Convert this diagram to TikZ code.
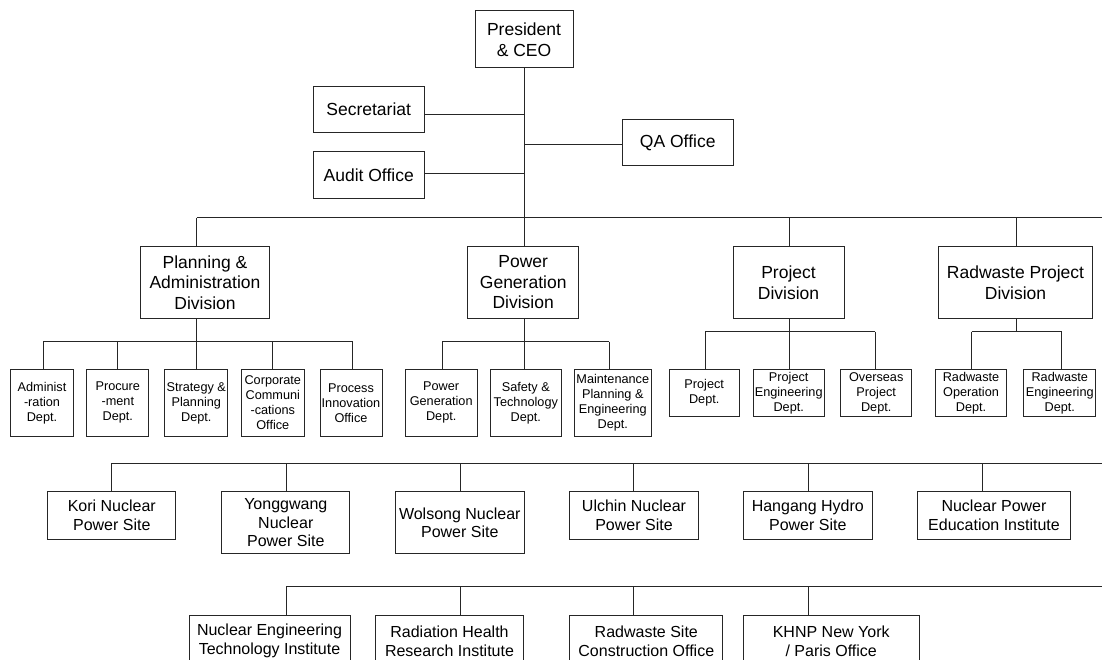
\documentclass[tikz,border=0pt]{standalone}
\usepackage{fontspec}
\setmainfont{Liberation Sans}
\begin{document}
\begin{tikzpicture}[x=1pt,y=-1pt,
  box/.style={draw=black!85, line width=1pt, inner sep=0pt, align=center, text=black},
  sz/.style 2 args={minimum width=#1pt, minimum height=#2pt},
  big/.style={box, font=\fontsize{17.5}{20.5}\selectfont},
  site/.style={box, font=\fontsize{16}{18.7}\selectfont},
  dept/.style={box, font=\fontsize{12.7}{15}\selectfont},
  wire/.style={draw=black!85, line width=1pt},
]
\useasboundingbox (0,0) rectangle (1102,660);

% ---- top management ----
\node[big, sz={98}{57}]     (pres) at (524,39.5)    {President\\\& CEO};
\node[big, sz={111.3}{46.3}] (sec)  at (368.7,109.2) {Secretariat};
\node[big, sz={111.3}{47.3}] (aud)  at (368.7,175.3) {Audit Office};
\node[big, sz={111.3}{45.7}] (qa)   at (677.7,142.8) {QA Office};

% ---- divisions ----
\node[big, sz={128.6}{71.6}] (plan) at (205,282.5)    {Planning \&\\Administration\\Division};
\node[big, sz={111}{71.6}]   (pgd)  at (523.2,282.5)  {Power\\Generation\\Division};
\node[big, sz={111}{71.6}]   (prjd) at (788.5,282.5)  {Project\\Division};
\node[big, sz={153.6}{71.6}] (rwd)  at (1015.5,282.5) {Radwaste Project\\Division};

% ---- departments ----
\node[dept, sz={62.6}{67.2}] (adm)   at (42,402.9)    {Administ\\-ration\\Dept.};
\node[dept, sz={62.3}{67.2}] (proc)  at (117.8,402.9) {Procure\\-ment\\Dept.};
\node[dept, sz={62.7}{67.2}] (strat) at (196.3,402.9) {Strategy \&\\Planning\\Dept.};
\node[dept, sz={63}{67.2}]   (corp)  at (272.8,402.9) {Corporate\\Communi\\-cations\\Office};
\node[dept, sz={62}{67.2}]   (pino)  at (351,402.9)   {Process\\Innovation\\Office};
\node[dept, sz={71.7}{67.2}] (pgdep) at (441.2,402.9) {Power\\Generation\\Dept.};
\node[dept, sz={71}{67.2}]   (safe)  at (525.8,402.9) {Safety \&\\Technology\\Dept.};
\node[dept, sz={77}{67.2}]   (mpe)   at (612.8,402.9) {Maintenance\\Planning \&\\Engineering\\Dept.};
\node[dept, sz={69.7}{47.4}] (prdep) at (704.2,393)   {Project\\Dept.};
\node[dept, sz={70.7}{47.4}] (preng) at (788.7,393)   {Project\\Engineering\\Dept.};
\node[dept, sz={71}{47.4}]   (ovs)   at (876.2,393)   {Overseas\\Project\\Dept.};
\node[dept, sz={71.4}{47.4}] (rwop)  at (971,393)     {Radwaste\\Operation\\Dept.};
\node[dept, sz={71.7}{47.4}] (rweng) at (1059.8,393)  {Radwaste\\Engineering\\Dept.};

% ---- sites ----
\node[site, sz={128.3}{47.6}] (kori) at (111.8,515.5) {Kori Nuclear\\Power Site};
\node[site, sz={128.3}{62.3}] (yong) at (285.8,522.8) {Yonggwang\\Nuclear\\Power Site};
\node[site, sz={129}{62.3}]   (wol)  at (459.8,522.8) {Wolsong Nuclear\\Power Site};
\node[site, sz={129.4}{47.6}] (ulc)  at (634,515.5)   {Ulchin Nuclear\\Power Site};
\node[site, sz={129}{47.6}]   (han)  at (807.8,515.5) {Hangang Hydro\\Power Site};
\node[site, sz={153.4}{47.6}] (npei) at (994,515.5)   {Nuclear Power\\Education Institute};

% ---- institutes and offices ----
\node[site, sz={161}{52}]    (neti) at (269.5,641)  {Nuclear Engineering\\Technology Institute};
\node[site, sz={148.4}{52}]  (rhri) at (449.5,641)  {Radiation Health\\Research Institute};
\node[site, sz={153.3}{52}]  (rsco) at (646.3,641)  {Radwaste Site\\Construction Office};
\node[site, sz={175.7}{52}]  (khnp) at (831.2,641)  {KHNP New York\\/ Paris Office};

% ---- junction points ----
\coordinate (jsec) at (524,114.3);
\coordinate (jqa)  at (524,144.3);
\coordinate (jaud) at (524,173.7);
\coordinate (d1) at (196.7,218);
\coordinate (d2) at (524,218);
\coordinate (d3) at (789,218);
\coordinate (d4) at (1016.3,218);
\coordinate (dend) at (1106,218);

\coordinate (a1) at (43.3,341.7);
\coordinate (a2) at (117.3,341.7);
\coordinate (a3) at (196.7,341.7);
\coordinate (a4) at (272.7,341.7);
\coordinate (a5) at (352.7,341.7);
\coordinate (g1) at (442,341.7);
\coordinate (g2) at (524,341.7);
\coordinate (g3) at (609.3,341.7);
\coordinate (p1) at (705.3,331.7);
\coordinate (p2) at (789,331.7);
\coordinate (p3) at (875,331.7);
\coordinate (r1) at (971.7,331.7);
\coordinate (r2) at (1016.3,331.7);
\coordinate (r3) at (1061.7,331.7);

\coordinate (s1) at (111.7,463.3);
\coordinate (s2) at (286,463.3);
\coordinate (s3) at (460.3,463.3);
\coordinate (s4) at (633.7,463.3);
\coordinate (s5) at (808,463.3);
\coordinate (s6) at (982.3,463.3);
\coordinate (send) at (1106,463.3);

\coordinate (t1) at (286,586);
\coordinate (t2) at (460.3,586);
\coordinate (t3) at (633.7,586);
\coordinate (t4) at (808,586);
\coordinate (tend) at (1106,586);

% ---- connectors: top ----
\draw[wire] (pres.south) -- (d2);
\draw[wire] (jsec) -- (jsec -| sec.east);
\draw[wire] (jqa)  -- (jqa -| qa.west);
\draw[wire] (jaud) -- (jaud -| aud.east);

% ---- connectors: divisions ----
\draw[wire] (d1) -- (dend);
\draw[wire] (d1) -- (d1 |- plan.north);
\draw[wire] (d3) -- (d3 |- prjd.north);
\draw[wire] (d4) -- (d4 |- rwd.north);
\draw[wire] (d2) -- (d2 |- pgd.north);

% ---- connectors: departments ----
\draw[wire] (a1) -- (a5);
\draw[wire] (plan.south -| a3) -- (a3);
\draw[wire] (a1) -- (a1 |- adm.north);
\draw[wire] (a2) -- (a2 |- proc.north);
\draw[wire] (a3) -- (a3 |- strat.north);
\draw[wire] (a4) -- (a4 |- corp.north);
\draw[wire] (a5) -- (a5 |- pino.north);

\draw[wire] (g1) -- (g3);
\draw[wire] (pgd.south -| g2) -- (g2);
\draw[wire] (g1) -- (g1 |- pgdep.north);
\draw[wire] (g2) -- (g2 |- safe.north);
\draw[wire] (g3) -- (g3 |- mpe.north);

\draw[wire] (p1) -- (p3);
\draw[wire] (prjd.south -| p2) -- (p2);
\draw[wire] (p1) -- (p1 |- prdep.north);
\draw[wire] (p2) -- (p2 |- preng.north);
\draw[wire] (p3) -- (p3 |- ovs.north);

\draw[wire] (r1) -- (r3);
\draw[wire] (rwd.south -| r2) -- (r2);
\draw[wire] (r1) -- (r1 |- rwop.north);
\draw[wire] (r3) -- (r3 |- rweng.north);

% ---- connectors: sites ----
\draw[wire] (s1) -- (send);
\draw[wire] (s1) -- (s1 |- kori.north);
\draw[wire] (s2) -- (s2 |- yong.north);
\draw[wire] (s3) -- (s3 |- wol.north);
\draw[wire] (s4) -- (s4 |- ulc.north);
\draw[wire] (s5) -- (s5 |- han.north);
\draw[wire] (s6) -- (s6 |- npei.north);

% ---- connectors: institutes ----
\draw[wire] (t1) -- (tend);
\draw[wire] (t1) -- (t1 |- neti.north);
\draw[wire] (t2) -- (t2 |- rhri.north);
\draw[wire] (t3) -- (t3 |- rsco.north);
\draw[wire] (t4) -- (t4 |- khnp.north);
\end{tikzpicture}
\end{document}
